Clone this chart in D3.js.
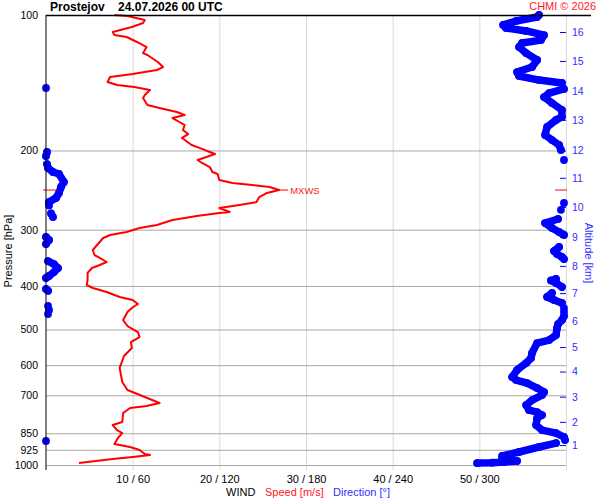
<!DOCTYPE html>
<html>
<head>
<meta charset="utf-8">
<script src="https://cdn.jsdelivr.net/npm/d3@7"></script>
<style>
  body { margin: 0; background: #fff; }
  text { font-family: "Liberation Sans", Arial, sans-serif; }
</style>
</head>
<body>
<div id="chart"></div>
<script>
// axis values
const pressureTicks = [100, 200, 300, 400, 500, 600, 700, 850, 925, 1000];
const speedTicks = [10, 20, 30, 40, 50];
const altitudeKm = [1, 2, 3, 4, 5, 6, 7, 8, 9, 10, 11, 12, 13, 14, 15, 16];
const altitudeHpa = [903, 802, 705, 620, 547, 478, 415, 361, 311, 267, 230, 200, 171, 147.5, 126.5, 109.1];

// [pressure hPa, wind speed m/s]
const speedProfile = [
  [100,7.9],[100.5,9.4],[102.6,11.4],[104.2,11.2],[106.3,9.9],[109.1,7.7],[110.8,7.9],[111.9,9.3],[114.8,10.5],[117.8,11.6],
  [121.5,11.2],[122.7,11.7],[127.2,12.9],[130.5,13.5],[132.5,12.8],[135.3,10.0],[137.3,7.4],[140.9,7.1],[143.1,8.2],[144.5,10.2],
  [146.8,12.0],[150.6,11.4],[152.9,11.2],[158.5,11.7],[160.9,13.1],[164.3,15.1],[166.8,16.0],[169.4,14.6],[172.9,15.4],[175.6,16.0],
  [180.1,15.8],[183.9,16.4],[187.6,15.7],[194.5,16.8],[197.4,17.7],[201.6,18.9],[203.7,19.5],[206.8,18.5],[210.0,17.5],[213.2,18.0],
  [217.7,18.9],[223.3,19.2],[225.6,19.8],[232.6,20.0],[236.2,21.5],[238.7,23.8],[241.1,25.8],[244.9,26.9],[248.6,25.5],[253.8,24.6],
  [260.4,24.3],[264.4,22.3],[268.5,20.0],[274.0,21.2],[275.4,20.0],[279.7,17.4],[285.4,14.6],[292.8,12.8],[297.4,10.8],[303.5,9.3],
  [308.2,7.4],[313.0,6.6],[324.4,5.9],[332.8,5.4],[341.5,5.6],[346.7,6.2],[353.9,7.0],[359.3,6.2],[364.9,5.3],[374.3,4.8],
  [388.0,4.8],[398.1,4.7],[404.3,5.4],[412.6,7.0],[423.3,8.5],[429.9,10.0],[438.8,10.6],[447.8,9.9],[457.1,9.4],[476.3,8.9],
  [491.1,9.4],[506.4,10.6],[519.6,10.8],[533.0,9.8],[549.5,9.9],[572.5,9.0],[608.6,8.5],[654.0,8.8],[681.3,9.4],[706.2,11.4],
  [728.2,13.1],[739.5,11.6],[747.1,9.7],[766.4,8.9],[802.6,8.8],[815.1,7.7],[836.3,8.2],[849.3,8.8],[871.0,8.3],[898.1,7.9],
  [912.0,9.7],[926.2,10.8],[945.3,11.4],[950.2,12.0],[959.9,10.0],[969.8,7.7],[989.8,3.8]
];

// [pressure hPa, wind direction deg]
const directionProfile = [
  [100,341.3],[101,340.0],[103.1,325.5],[105.2,316.5],[106.9,318.5],[108.5,332.4],[110.8,344.8],[113.7,342.7],[115.4,329.6],[117.8,327.5],
  [121.5,332.4],[125.9,340.0],[130.5,336.5],[133.9,326.1],[136.6,327.5],[139.5,341.3],[141.6,357.2],[145.3,0.0],[146.0,358.6],[149.1,348.3],
  [152.2,344.8],[156.9,350.3],[162.6,357.2],[168.5,357.2],[171.1,353.1],[177.3,346.9],[184.8,345.5],[189.6,350.3],[194.5,355.2],[199.5,356.5],
  [201.6,0.7],[205.8,0.0],[210.0,358.6],[214.4,0.7],[218.8,1.4],[223.3,4.8],[225.6,9.0],[235.0,12.4],[241.1,10.4],[248.6,9.0],
  [255.1,6.9],[260.4,2.1],[261.7,358.6],[265,2.1],[271,356.5],[276,3.5],[281,4.8],[284,354.5],[290,345.5],[297.4,350.3],
  [303.5,355.2],[308.2,358.6],[311.4,0.0],[316.2,2.1],[322.8,0.0],[327.8,355.2],[334.6,351.7],[339.8,353.8],[345,357.2],[348.6,358.6],
  [352.2,1.4],[357.6,5.5],[365.1,8.3],[372.6,5.5],[380.2,2.1],[384.1,0.0],[386,353.1],[389,349.6],[394,353.1],[402.2,357.2],
  [406.3,0.0],[410,1.4],[414.7,350.3],[423.3,346.9],[429.9,351.7],[436.5,357.2],[443.3,1.4],[448,358.6],[452.4,2.1],[457,358.6],
  [461.8,1.4],[466.6,358.6],[476.3,357.2],[486.2,354.5],[496.3,353.8],[514.4,353.1],[527.7,348.3],[535.9,340.0],[563.8,336.5],[578.6,335.8],
  [593.6,332.4],[615.3,326.1],[637.7,322.7],[647.6,325.5],[657.6,333.1],[674.6,340.0],[688.6,344.8],[699.3,343.4],[717.4,336.5],[736.0,332.4],
  [755.1,334.4],[762.9,340.0],[774.6,343.4],[786.6,340.0],[815.1,339.3],[836.3,343.4],[849.3,353.1],[866.5,358.6],[880,359.3],[884.5,0.0],
  [893.7,353.1],[912,341.3],[935.7,327.5],[955,315.8],[969.8,315.8],[979.7,326.1],[984.8,317.2],[988,308.9],[990,298.5]
];

// max wind
const maxWindHpa = 244.9;
const maxWindSpeed = 26.9;

const width = 600, height = 500;
const plot = { left: 46, right: 566, top: 15, bottom: 465 };

const svg = d3.select("#chart")
  .append("svg")
  .attr("width", width)
  .attr("height", height);

const y = d3.scaleLog().domain([100, 1000]).range([plot.top, plot.bottom]);
const xSpeed = d3.scaleLinear().domain([0, 60]).range([plot.left, plot.right]);
const xDir = d3.scaleLinear().domain([0, 360]).range([plot.left, plot.right]);

// vertical grid (goes a bit below the 1000 hPa line)
svg.append("g")
  .attr("transform", `translate(0, ${plot.top})`)
  .call(d3.axisTop(xSpeed).tickValues([...speedTicks, 60]).tickSize(-(plot.bottom - plot.top + 5)).tickFormat(""))
  .call(g => g.select(".domain").remove())
  .selectAll("line").attr("stroke", "#dadada");

// horizontal grid
svg.append("g")
  .attr("transform", `translate(${plot.left}, 0)`)
  .call(d3.axisLeft(y).tickValues(pressureTicks.slice(1)).tickSize(-(plot.right - plot.left)).tickFormat(""))
  .call(g => g.select(".domain").remove())
  .selectAll("line").attr("stroke", "#a8a8a8");

// direction: break the line where it wraps through north
const segments = [];
let seg = [];
directionProfile.forEach((d, i) => {
  if (i > 0 && Math.abs(d[1] - directionProfile[i - 1][1]) > 180) {
    segments.push(seg);
    seg = [];
  }
  seg.push(d);
});
segments.push(seg);

const dirLine = d3.line().x(d => xDir(d[1])).y(d => y(d[0]));

svg.append("g")
  .selectAll("path")
  .data(segments.filter(s => s.length > 1))
  .enter()
  .append("path")
  .attr("d", dirLine)
  .attr("fill", "none")
  .attr("stroke", "#0000ff")
  .attr("stroke-width", 7.5)
  .attr("stroke-linecap", "round")
  .attr("stroke-linejoin", "round");

svg.append("g")
  .selectAll("circle")
  .data(directionProfile)
  .enter()
  .append("circle")
  .attr("cx", d => xDir(d[1]))
  .attr("cy", d => y(d[0]))
  .attr("r", 3.9)
  .attr("fill", "#0000ff");

// speed
svg.append("path")
  .datum(speedProfile)
  .attr("d", d3.line().x(d => xSpeed(d[1])).y(d => y(d[0])))
  .attr("fill", "none")
  .attr("stroke", "#ff0000")
  .attr("stroke-width", 2)
  .attr("stroke-linejoin", "round");

// MXWS marks
svg.append("line")
  .attr("x1", plot.left - 3).attr("x2", plot.left + 11)
  .attr("y1", y(maxWindHpa)).attr("y2", y(maxWindHpa))
  .attr("stroke", "#ff0000");
svg.append("line")
  .attr("x1", plot.right - 11).attr("x2", plot.right + 1)
  .attr("y1", y(maxWindHpa)).attr("y2", y(maxWindHpa))
  .attr("stroke", "#ff0000");
svg.append("line")
  .attr("x1", xSpeed(maxWindSpeed)).attr("x2", xSpeed(maxWindSpeed) + 9)
  .attr("y1", y(maxWindHpa)).attr("y2", y(maxWindHpa))
  .attr("stroke", "#ff0000");
svg.append("text")
  .attr("x", xSpeed(maxWindSpeed) + 11)
  .attr("y", y(maxWindHpa) + 3.5)
  .attr("font-size", "9.5px")
  .attr("fill", "#ff2020")
  .text("MXWS");

// frame lines
svg.append("line")
  .attr("x1", plot.left).attr("x2", plot.left)
  .attr("y1", plot.top).attr("y2", plot.bottom + 5)
  .attr("stroke", "#000");
svg.append("line")
  .attr("x1", plot.left).attr("x2", 591)
  .attr("y1", plot.top + 0.5).attr("y2", plot.top + 0.5)
  .attr("stroke", "#000")
  .attr("stroke-width", 1.3);

// pressure labels
const leftAxis = svg.append("g")
  .attr("transform", `translate(${plot.left}, 0)`)
  .call(d3.axisLeft(y).tickValues(pressureTicks).tickFormat(d3.format("d")).tickSize(0).tickPadding(8));
leftAxis.select(".domain").remove();
leftAxis.selectAll("text")
  .attr("font-family", "Liberation Sans, Arial, sans-serif")
  .attr("font-size", "10.5px")
  .attr("fill", "#000");

// speed / direction labels
const bottomAxis = svg.append("g")
  .attr("transform", `translate(0, ${plot.bottom + 5})`)
  .call(d3.axisBottom(xSpeed).tickValues(speedTicks).tickSize(0).tickPadding(5)
    .tickFormat(d => `${d} / ${Math.round(xDir.invert(xSpeed(d)))}`));
bottomAxis.select(".domain").remove();
bottomAxis.selectAll("text")
  .attr("font-family", "Liberation Sans, Arial, sans-serif")
  .attr("font-size", "11px")
  .attr("fill", "#000");

// altitude axis
const rightAxis = svg.append("g")
  .attr("transform", `translate(${plot.right - 6}, 0)`)
  .call(d3.axisRight(y).tickValues(altitudeHpa).tickSize(6).tickPadding(6)
    .tickFormat((d, i) => altitudeKm[i]));
rightAxis.select(".domain").remove();
rightAxis.selectAll("line").attr("stroke", "#0000ff");
rightAxis.selectAll("text")
  .attr("font-family", "Liberation Sans, Arial, sans-serif")
  .attr("font-size", "10.5px")
  .attr("fill", "#3030ff");

// titles
svg.append("text")
  .attr("x", 50).attr("y", 11)
  .attr("font-size", "12px")
  .attr("font-weight", "bold")
  .attr("xml:space", "preserve")
  .style("white-space", "pre")
  .text("Prostejov    24.07.2026 00 UTC");

svg.append("text")
  .attr("x", 596).attr("y", 10)
  .attr("text-anchor", "end")
  .attr("font-size", "11px")
  .attr("fill", "#ff2020")
  .text("CHMI © 2026");

svg.append("text")
  .attr("transform", "translate(12, 251) rotate(-90)")
  .attr("text-anchor", "middle")
  .attr("font-size", "11px")
  .text("Pressure [hPa]");

svg.append("text")
  .attr("transform", "translate(585, 253) rotate(90)")
  .attr("text-anchor", "middle")
  .attr("font-size", "11px")
  .attr("fill", "#3030ff")
  .text("Altitude [km]");

const legend = [
  { label: "WIND", x: 226, color: "#000" },
  { label: "Speed [m/s]", x: 265, color: "#ff2020" },
  { label: "Direction [°]", x: 333, color: "#3030ff" }
];
svg.append("g")
  .selectAll("text")
  .data(legend)
  .enter()
  .append("text")
  .attr("x", d => d.x)
  .attr("y", 496)
  .attr("font-size", "11px")
  .attr("fill", d => d.color)
  .text(d => d.label);
</script>
</body>
</html>
